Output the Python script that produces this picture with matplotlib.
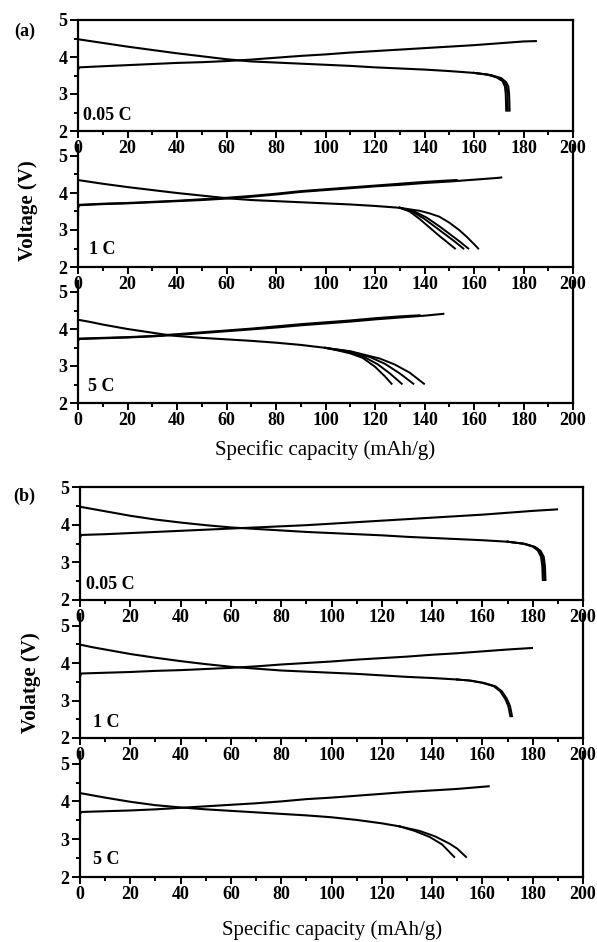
import matplotlib
matplotlib.use("Agg")
import matplotlib.pyplot as plt
from matplotlib.ticker import MultipleLocator

plt.rcParams.update({
    "font.family": "serif",
    "font.serif": ["Liberation Serif", "DejaVu Serif"],
    "axes.linewidth": 1.6,
    "xtick.direction": "out",
    "ytick.direction": "out",
})

# ---------------- (a) ----------------
# 0.05 C
a005_chg_x = [0, 0, 0.5, 10, 20, 30, 40, 50, 60, 70, 80, 90, 100, 110, 120, 130, 140, 150, 160, 170, 180, 185]
a005_chg_v = [3.45, 3.65, 3.72, 3.75, 3.78, 3.81, 3.84, 3.86, 3.89, 3.93, 3.98, 4.03, 4.07, 4.12, 4.16, 4.20, 4.24, 4.28, 4.32, 4.37, 4.42, 4.43]
a005_dis_x = [0, 5, 10, 20, 30, 40, 50, 60, 70, 80, 90, 100, 110, 120, 130, 140, 150, 160]
a005_dis_v = [4.48, 4.43, 4.38, 4.28, 4.19, 4.10, 4.02, 3.94, 3.88, 3.85, 3.82, 3.79, 3.76, 3.72, 3.69, 3.66, 3.62, 3.57]
a005_tail_x = [[160, 165, 169, 171.5, 172.5, 172.8, 172.9, 173.0],
               [160, 166, 170, 172.3, 173.2, 173.5, 173.6, 173.7],
               [160, 167, 171, 173.0, 173.9, 174.2, 174.3, 174.4]]
a005_tail_v = [[3.57, 3.53, 3.45, 3.35, 3.2, 3.0, 2.8, 2.55],
               [3.57, 3.52, 3.44, 3.33, 3.2, 3.0, 2.8, 2.55],
               [3.57, 3.51, 3.43, 3.32, 3.2, 3.0, 2.8, 2.55]]

# 1 C
a1_chg_x = [[0, 0, 0.5, 10, 20, 30, 40, 50, 60, 70, 80, 90, 100, 110, 120, 130, 140, 150, 160, 170, 171],
            [0, 0, 0.5, 10, 20, 30, 40, 50, 60, 70, 80, 90, 100, 110, 120, 130, 140, 150, 153]]
a1_chg_v = [[3.40, 3.60, 3.67, 3.70, 3.72, 3.75, 3.78, 3.81, 3.85, 3.90, 3.96, 4.03, 4.08, 4.13, 4.18, 4.22, 4.27, 4.31, 4.36, 4.41, 4.42],
            [3.40, 3.62, 3.68, 3.71, 3.73, 3.76, 3.79, 3.83, 3.87, 3.92, 3.98, 4.05, 4.10, 4.15, 4.20, 4.25, 4.30, 4.34, 4.35]]
a1_dis_x = [0, 5, 10, 20, 30, 40, 50, 60, 70, 80, 90, 100, 110, 120, 130]
a1_dis_v = [4.35, 4.30, 4.25, 4.16, 4.08, 4.00, 3.93, 3.86, 3.81, 3.78, 3.75, 3.72, 3.69, 3.65, 3.60]
a1_tail_x = [[130, 134, 138, 142, 146, 149, 152.3],
             [130, 135, 140, 144, 148, 152, 155.7],
             [130, 136, 141, 146, 150, 154, 157.7],
             [130, 138, 142, 146, 150, 154, 157, 160, 161.7]]
a1_tail_v = [[3.60, 3.50, 3.30, 3.07, 2.84, 2.68, 2.50],
             [3.60, 3.50, 3.30, 3.10, 2.90, 2.70, 2.50],
             [3.60, 3.50, 3.33, 3.10, 2.90, 2.70, 2.50],
             [3.60, 3.52, 3.45, 3.36, 3.20, 3.00, 2.82, 2.62, 2.50]]

# 5 C
a5_chg_x = [[0, 0, 0.5, 10, 20, 30, 40, 50, 60, 70, 80, 90, 100, 110, 120, 130, 140, 147.6],
            [0, 0, 0.5, 10, 20, 30, 40, 50, 60, 70, 80, 90, 100, 110, 120, 130, 138]]
a5_chg_v = [[3.50, 3.68, 3.73, 3.75, 3.77, 3.80, 3.84, 3.89, 3.94, 3.99, 4.04, 4.10, 4.15, 4.20, 4.26, 4.31, 4.36, 4.41],
            [3.50, 3.69, 3.74, 3.76, 3.78, 3.81, 3.86, 3.91, 3.96, 4.01, 4.07, 4.13, 4.18, 4.23, 4.29, 4.34, 4.37]]
a5_dis_x = [0, 5, 10, 20, 30, 36, 40, 50, 60, 70, 80, 90, 100]
a5_dis_v = [4.25, 4.19, 4.12, 4.00, 3.90, 3.84, 3.81, 3.76, 3.72, 3.68, 3.63, 3.57, 3.49]
a5_tail_x = [[100, 105, 110, 115, 120, 124, 126.7],
             [100, 110, 116, 121, 126, 130.8],
             [100, 110, 118, 124, 130, 135.5],
             [100, 110, 122, 128, 134, 139.8]]
a5_tail_v = [[3.49, 3.42, 3.34, 3.22, 2.98, 2.72, 2.52],
             [3.49, 3.37, 3.23, 3.05, 2.80, 2.52],
             [3.49, 3.39, 3.24, 3.06, 2.80, 2.52],
             [3.49, 3.40, 3.20, 3.04, 2.82, 2.52]]

# ---------------- (b) ----------------
# 0.05 C
b005_chg_x = [0, 0, 0.5, 10, 20, 30, 40, 50, 60, 70, 80, 90, 100, 110, 120, 130, 140, 150, 160, 170, 180, 189.7]
b005_chg_v = [3.45, 3.66, 3.73, 3.75, 3.78, 3.81, 3.84, 3.87, 3.90, 3.93, 3.96, 3.99, 4.03, 4.07, 4.11, 4.15, 4.19, 4.23, 4.27, 4.32, 4.37, 4.41]
b005_dis_x = [0, 5, 10, 20, 30, 40, 50, 60, 70, 80, 90, 100, 110, 120, 130, 140, 150, 160, 170]
b005_dis_v = [4.48, 4.42, 4.36, 4.24, 4.14, 4.06, 3.99, 3.93, 3.89, 3.85, 3.81, 3.78, 3.75, 3.72, 3.68, 3.65, 3.62, 3.59, 3.55]
b005_tail_x = [[170, 176, 180, 182, 183.3, 183.8, 184.0],
               [170, 176.5, 180.5, 182.6, 183.9, 184.4, 184.6],
               [170, 177, 181, 183.1, 184.4, 184.9, 185.1]]
b005_tail_v = [[3.55, 3.50, 3.42, 3.32, 3.15, 2.90, 2.53],
               [3.55, 3.50, 3.42, 3.32, 3.15, 2.90, 2.53],
               [3.55, 3.49, 3.41, 3.31, 3.15, 2.90, 2.53]]

# 1 C
b1_chg_x = [0, 0, 0.5, 10, 20, 30, 40, 50, 60, 70, 80, 90, 100, 110, 120, 130, 140, 150, 160, 170, 179.7]
b1_chg_v = [3.45, 3.65, 3.72, 3.74, 3.76, 3.79, 3.81, 3.84, 3.87, 3.91, 3.96, 4.00, 4.04, 4.09, 4.13, 4.17, 4.22, 4.26, 4.31, 4.36, 4.40]
b1_dis_x = [0, 5, 10, 20, 30, 40, 50, 60, 70, 80, 90, 100, 110, 120, 130, 140, 150]
b1_dis_v = [4.49, 4.42, 4.36, 4.24, 4.14, 4.05, 3.97, 3.90, 3.85, 3.80, 3.77, 3.74, 3.71, 3.67, 3.63, 3.60, 3.56]
b1_tail_x = [[150, 155, 160, 164.5, 167, 169, 170.3, 171.1],
             [150, 155.5, 160.6, 165.2, 167.7, 169.7, 171.0, 171.8]]
b1_tail_v = [[3.56, 3.53, 3.47, 3.38, 3.25, 3.05, 2.85, 2.58],
             [3.56, 3.53, 3.47, 3.38, 3.25, 3.05, 2.85, 2.58]]

# 5 C
b5_chg_x = [0, 0, 0.5, 10, 20, 30, 40, 50, 60, 70, 80, 90, 100, 110, 120, 130, 140, 150, 162.5]
b5_chg_v = [3.50, 3.67, 3.72, 3.74, 3.76, 3.79, 3.83, 3.87, 3.91, 3.95, 4.00, 4.06, 4.10, 4.15, 4.20, 4.25, 4.29, 4.33, 4.40]
b5_dis_x = [0, 5, 10, 20, 30, 40, 50, 60, 70, 80, 90, 100, 110, 120, 127]
b5_dis_v = [4.22, 4.16, 4.10, 3.99, 3.90, 3.84, 3.79, 3.75, 3.71, 3.67, 3.63, 3.58, 3.51, 3.42, 3.34]
b5_tail_x = [[127, 133, 139, 144, 148.8],
             [127, 135, 141, 147, 150, 153.5]]
b5_tail_v = [[3.34, 3.22, 3.06, 2.86, 2.53],
             [3.34, 3.22, 3.08, 2.88, 2.75, 2.53]]

rate_labels = ["0.05 C", "1 C", "5 C"]


def panel(fig, rect, chg, dis, tails, label, label_xy, boxed):
    ax = fig.add_axes(rect)
    ax.patch.set_visible(False)
    for x, v in chg:
        ax.plot(x, v, color="black", lw=1.5)
    ax.plot(dis[0], dis[1], color="black", lw=1.5)
    for x, v in zip(*tails):
        ax.plot(x, v, color="black", lw=1.4)
    ax.set_xlim(0, 200)
    ax.set_ylim(2, 5 if boxed else 5.3)
    ax.set_xticks(range(0, 201, 20))
    ax.set_yticks([2, 3, 4, 5])
    ax.xaxis.set_minor_locator(MultipleLocator(10))
    ax.yaxis.set_minor_locator(MultipleLocator(0.5))
    ax.tick_params(which="major", length=5, width=1.4, labelsize=13, pad=1.5)
    ax.tick_params(which="minor", length=3, width=1.4)
    ax.tick_params(axis="y", which="major", length=6)
    for t in ax.get_xticklabels() + ax.get_yticklabels():
        t.set_fontweight("bold")
    if not boxed:
        ax.spines["top"].set_visible(False)
    ax.text(label_xy[0], label_xy[1], label, fontsize=13, fontweight="bold",
            ha="left", va="center")
    return ax


fig = plt.figure(figsize=(5.97, 9.42), dpi=100)
H = 942.0
W = 597.0


def rect(left_px, right_px, v2_px, px_per_v, top_v):
    bottom = 1 - v2_px / H
    height = (top_v - 2) * px_per_v / H
    return [left_px / W, bottom, (right_px - left_px) / W, height]


# (a) group
panel(fig, rect(78, 573, 131, 37, 5), [(a005_chg_x, a005_chg_v)], (a005_dis_x, a005_dis_v),
      (a005_tail_x, a005_tail_v), rate_labels[0], (2, 2.43), True)
panel(fig, rect(78, 573, 267, 37, 5.3), list(zip(a1_chg_x, a1_chg_v)), (a1_dis_x, a1_dis_v),
      (a1_tail_x, a1_tail_v), rate_labels[1], (4.5, 2.46), False)
panel(fig, rect(78, 573, 403, 37, 5.3), list(zip(a5_chg_x, a5_chg_v)), (a5_dis_x, a5_dis_v),
      (a5_tail_x, a5_tail_v), rate_labels[2], (4, 2.45), False)

# (b) group
panel(fig, rect(80, 583, 600, 37.6, 5), [(b005_chg_x, b005_chg_v)], (b005_dis_x, b005_dis_v),
      (b005_tail_x, b005_tail_v), rate_labels[0], (2.4, 2.41), True)
panel(fig, rect(80, 583, 738, 37.5, 5.3), [(b1_chg_x, b1_chg_v)], (b1_dis_x, b1_dis_v),
      (b1_tail_x, b1_tail_v), rate_labels[1], (5, 2.42), False)
panel(fig, rect(80, 583, 877, 37.8, 5.3), [(b5_chg_x, b5_chg_v)], (b5_dis_x, b5_dis_v),
      (b5_tail_x, b5_tail_v), rate_labels[2], (5, 2.45), False)

# labels
fig.text(25 / W, 1 - 31 / H, "(a)", fontsize=13, fontweight="bold", ha="center", va="center")
fig.text(24 / W, 1 - 496 / H, "(b)", fontsize=13, fontweight="bold", ha="center", va="center")
fig.text(28 / W, 1 - 211 / H, "Voltage (V)", fontsize=15, fontweight="bold", rotation=90,
         ha="center", va="center")
fig.text(31 / W, 1 - 683 / H, "Volatge (V)", fontsize=15, fontweight="bold", rotation=90,
         ha="center", va="center")
fig.text(325 / W, 1 - 450 / H, "Specific capacity (mAh/g)", fontsize=15,
         ha="center", va="center")
fig.text(332 / W, 1 - 930 / H, "Specific capacity (mAh/g)", fontsize=15,
         ha="center", va="center")

fig.savefig("out.png", dpi=100)
